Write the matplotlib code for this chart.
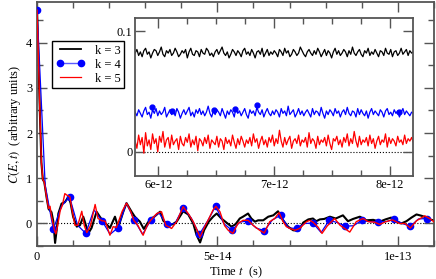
import numpy as np
import matplotlib
matplotlib.use("Agg")
import matplotlib.pyplot as plt
from matplotlib.lines import Line2D
from matplotlib.ticker import FixedLocator, MultipleLocator

# ---- main panel data, time in units of 1e-15 s ----
t_k3 = [0, 0.4, 0.8, 1.2, 1.6, 2.0, 2.7, 3.2, 4.0, 4.5, 5.0, 5.5, 5.9, 6.8, 7.7,
        8.7, 9.3, 10.0, 11.0, 11.9, 12.8, 13.4, 14.2, 15.1, 16.5, 17.4, 18.3, 19.3,
        20.2, 21.6, 22.5, 23.9, 24.8, 26.2, 27.1, 28.5, 29.6, 30.8, 31.5, 32.5,
        34.1, 35.0, 36.4, 37.5, 38.7, 40.5, 41.9, 43.3, 44.2, 45.2, 46.3, 47.6,
        48.8, 49.8, 51.1, 52.5, 53.9, 55.0, 56.2, 57.1, 58.5, 59.4, 60.4, 61.3,
        62.7, 64.1, 65.5, 66.8, 68.2, 69.6, 71.0, 72.5, 73.8, 75.2, 76.5, 77.4,
        78.4, 79.6, 81.2, 82.8, 84.8, 86.2, 87.6, 89.5, 91.3, 93.2, 95.0, 96.6,
        98.2, 99.6, 101.0, 102.4, 103.8, 105.2, 106.6, 108.0, 109.3, 110.0]
c_k3 = [4.72, 3.6, 2.4, 1.35, 0.97, 0.92, 0.55, 0.32, 0.25, 0.05, -0.43, -0.1,
        0.22, 0.44, 0.47, 0.59, 0.45, 0.15, -0.07, -0.04, 0.15, 0.0, -0.22, -0.1,
        0.26, 0.15, 0.05, -0.02, -0.1, 0.15, -0.09, 0.26, 0.45, 0.26, 0.15, 0.04,
        -0.12, 0.03, 0.1, 0.15, 0.26, 0.06, -0.04, -0.02, 0.04, 0.27, 0.2, 0.0,
        -0.25, -0.42, -0.15, 0.04, 0.15, 0.22, 0.11, 0.02, -0.07, -0.02, 0.11,
        0.15, 0.22, 0.11, 0.04, 0.07, 0.07, 0.15, 0.18, 0.27, 0.07, -0.07, -0.15,
        -0.16, 0.02, 0.09, 0.11, 0.05, 0.09, 0.1, 0.15, 0.11, 0.18, 0.05, 0.1,
        0.15, 0.07, 0.08, 0.04, 0.09, 0.13, 0.05, 0.0, 0.05, 0.13, 0.2, 0.17,
        0.13, 0.08, 0.07]

t_k5 = [0, 0.4, 0.8, 1.2, 1.6, 2.0, 2.7, 3.2, 3.6, 4.0, 4.8, 5.2, 5.7, 6.4, 7.0,
        7.7, 8.4, 9.1, 9.8, 10.5, 11.3, 12.4, 13.1, 13.8, 14.8, 16.1, 16.9, 18.0,
        18.9, 20.2, 21.1, 22.0, 23.6, 24.8, 26.0, 26.8, 28.0, 29.4, 30.5, 31.5,
        33.2, 34.5, 35.7, 37.3, 38.7, 40.5, 41.9, 43.3, 45.2, 46.5, 47.6, 48.8,
        49.6, 50.7, 52.0, 53.0, 54.3, 55.7, 57.1, 58.5, 59.9, 61.7, 63.0, 64.5,
        65.9, 67.1, 68.2, 69.1, 70.1, 71.5, 72.8, 74.7, 75.6, 76.5, 77.9, 79.0,
        80.5, 82.5, 84.0, 86.7, 88.5, 90.4, 91.8, 93.5, 95.0, 96.7, 98.5, 100.5,
        102.0, 103.5, 105.2, 107.5, 109.0, 110.0]
c_k5 = [4.72, 3.6, 2.4, 1.35, 0.97, 0.92, 0.55, 0.33, 0.38, 0.16, -0.14, -0.23,
        -0.05, 0.28, 0.40, 0.66, 0.62, 0.59, 0.26, -0.04, -0.04, 0.27, -0.05,
        -0.2, -0.05, 0.42, 0.11, 0.06, 0.05, -0.26, -0.07, -0.09, 0.27, 0.45,
        0.26, 0.07, -0.05, -0.26, -0.05, 0.07, 0.22, 0.26, -0.04, -0.11, 0.04,
        0.37, 0.22, 0.04, -0.30, -0.07, 0.1, 0.3, 0.38, 0.26, -0.05, -0.15,
        -0.22, 0.0, 0.07, 0.07, -0.04, -0.15, -0.21, 0.04, 0.11, 0.24, 0.04,
        -0.07, -0.11, -0.15, -0.11, 0.04, 0.07, 0.03, -0.08, -0.22, -0.05, 0.11,
        -0.04, -0.19, 0.04, 0.11, 0.04, 0.03, -0.02, 0.04, 0.08, 0.0, 0.0, -0.1,
        0.06, 0.17, 0.1, 0.04]

# k = 4: every second point carries a marker (4.5e-15 s apart)
t_k4 = [0, 2.25, 4.5, 6.75, 9.0, 11.25, 13.5, 15.75, 18.0, 20.25, 22.5, 24.75,
        27.0, 29.25, 31.5, 33.75, 36.0, 38.25, 40.5, 42.75, 45.0, 47.25, 49.5,
        51.75, 54.0, 56.25, 58.5, 60.75, 63.0, 65.25, 67.5, 69.75, 72.0, 74.25,
        76.5, 78.75, 81.0, 83.25, 85.5, 87.75, 90.0, 92.25, 94.5, 96.75, 99.0,
        101.25, 103.5, 105.75, 108.0]
c_k4 = [4.72, 0.85, -0.13, 0.38, 0.59, -0.04, -0.22, 0.3, 0.06, -0.24, -0.09,
        0.45, 0.07, -0.24, 0.07, 0.24, -0.02, 0.0, 0.35, 0.12, -0.24, 0.05,
        0.38, 0.0, -0.15, 0.03, 0.06, -0.1, -0.16, 0.08, 0.18, -0.1, -0.11, 0.0,
        0.01, -0.2, 0.07, 0.02, -0.06, -0.05, 0.07, 0.04, 0.04, 0.04, 0.09, 0.0,
        -0.06, 0.1, 0.11]

# ---- inset data: 5.8e-12 .. 8.2e-12 s, values in units of 1e-3 ----
t_inset = [5.8 + 0.015 * i for i in range(161)]
k3_inset = [82, 85, 80, 83, 79, 84, 86, 81, 83, 78, 82, 85, 84, 80, 83, 87, 81, 79, 84, 82,
            85, 80, 82, 86, 83, 79, 81, 84, 82, 85, 78, 83, 86, 81, 80, 84, 83, 79, 85, 82,
            81, 86, 84, 80, 82, 79, 83, 85, 81, 84, 87, 82, 80, 83, 78, 81, 85, 83, 80, 84,
            82, 79, 84, 86, 81, 83, 80, 85, 82, 78, 83, 84, 81, 86, 79, 82, 85, 80, 83, 81,
            84, 82, 79, 85, 83, 80, 86, 82, 84, 79, 81, 85, 83, 80, 82, 87, 84, 81, 79, 83,
            85, 82, 80, 84, 81, 86, 83, 79, 82, 85, 80, 84, 82, 78, 83, 86, 81, 84, 80, 82,
            85, 83, 79, 84, 81, 87, 82, 80, 83, 85, 81, 79, 84, 82, 86, 80, 83, 81, 85, 82,
            79, 84, 83, 80, 86, 82, 81, 85, 79, 83, 84, 80, 82, 86, 81, 83, 85, 80, 84, 82,
            83]
k4_inset = [33, 30, 35, 32, 29, 34, 37, 31, 33, 28, 35, 32, 36, 30, 34, 31, 33, 37, 29, 32,
            35, 31, 34, 30, 36, 33, 28, 32, 35, 31, 34, 37, 30, 33, 29, 35, 32, 36, 31, 34,
            30, 33, 38, 32, 29, 34, 31, 35, 33, 30, 36, 32, 28, 34, 31, 35, 33, 29, 37, 32,
            34, 30, 33, 36, 31, 28, 35, 32, 34, 30, 37, 33, 31, 35, 29, 33, 36, 32, 30, 34,
            31, 35, 33, 29, 36, 32, 34, 30, 38, 31, 33, 35, 29, 32, 36, 31, 34, 30, 33, 35,
            32, 29, 36, 31, 34, 33, 30, 37, 32, 28, 34, 31, 35, 33, 30, 36, 32, 34, 29, 33,
            35, 31, 37, 32, 30, 34, 33, 29, 36, 31, 35, 32, 30, 34, 28, 33, 36, 31, 34, 32,
            30, 35, 33, 29, 34, 36, 31, 33, 30, 35, 32, 34, 29, 33, 36, 31, 34, 32, 30, 33,
            32]
k5_inset = [9, 3, 14, 6, 12, -1, 16, 5, 10, 2, 15, 7, 11, 0, 13, 8, 17, 4, 10, 12,
            3, 14, 6, 9, 11, 2, 13, 7, 5, 12, 8, 15, 4, 10, 6, 13, 1, 11, 9, 5,
            12, 7, 14, 3, 10, 8, 6, 13, 4, 11, 9, 2, 12, 7, 10, 5, 14, 8, 3, 11,
            6, 13, 9, 4, 10, 7, 12, 5, 15, 8, 11, 3, 9, 13, 6, 10, 4, 12, 8, 14,
            5, 11, 7, 18, 9, 4, 12, 6, 10, 13, 3, 9, 11, 7, 14, 5, 10, 8, 12, 4,
            16, 7, 11, 9, 3, 13, 6, 10, 8, 12, 5, 14, 7, 2, 11, 9, 13, 6, 10, 4,
            12, 8, 15, 5, 11, 7, 17, 9, 4, 13, 6, 10, 8, 12, 5, 14, 7, 11, 3, 9,
            13, 6, 10, 8, 15, 4, 12, 7, 11, 9, 5, 13, 8, 10, 6, 14, 7, 11, 9, 12,
            8]
k4_mark_t = [5.947, 6.12, 6.48, 6.66, 6.85, 8.08]
k4_mark_v = [37, 34, 35, 36, 39, 33]

plt.rcParams["font.family"] = "Liberation Serif"
plt.rcParams["mathtext.fontset"] = "stix"
plt.rcParams["font.size"] = 9

spine_col = "#555555"

fig = plt.figure(figsize=(4.36, 2.79), dpi=100)
ax = fig.add_axes([0.085, 0.118, 0.91, 0.875])

fs = 1e-15
ax.axhline(0, color="black", lw=0.8, ls=":", zorder=1)
ax.plot(np.array(t_k3) * fs, c_k3, color="black", lw=1.5, zorder=2)
ax.plot(np.array(t_k4) * fs, c_k4, color="blue", lw=0.9, marker="o", ms=4.5,
        markevery=2, zorder=3)
ax.plot(np.array(t_k5) * fs, c_k5, color="red", lw=1.0, zorder=4)

ax.set_xlim(0, 1.1e-13)
ax.set_ylim(-0.5, 4.9)
ax.xaxis.set_major_locator(FixedLocator([0, 5e-14, 1e-13]))
ax.set_xticklabels(["0", "5e-14", "1e-13"])
ax.xaxis.set_minor_locator(MultipleLocator(1e-14))
ax.yaxis.set_major_locator(MultipleLocator(1))
ax.yaxis.set_minor_locator(MultipleLocator(0.5))
ax.set_xlabel("Time $t$  (s)", labelpad=1)
ax.set_ylabel("$C(E,t)$  (arbitrary units)", labelpad=2)

ax.tick_params(which="both", direction="in", top=True, right=True,
               color=spine_col, width=1.0)
ax.tick_params(which="major", length=7)
ax.tick_params(which="minor", length=4)
for s in ax.spines.values():
    s.set_color(spine_col)
    s.set_linewidth(1.3)

handles = [Line2D([], [], color="black", lw=1.3),
           Line2D([], [], color="#5a5aff", lw=1.0, marker="o", ms=4.5,
                  markerfacecolor="blue", markeredgecolor="blue"),
           Line2D([], [], color="red", lw=0.9)]
leg = ax.legend(handles, ["k = 3", "k = 4", "k = 5"], loc="upper left",
                bbox_to_anchor=(0.038, 0.84), numpoints=2, fancybox=False,
                framealpha=1, edgecolor="black", borderpad=0.3,
                handlelength=2.3, labelspacing=0.15, handletextpad=0.8,
                borderaxespad=0)
leg.get_frame().set_linewidth(1.0)

# ---- inset ----
ins = fig.add_axes([0.310, 0.369, 0.638, 0.566])
ps = 1e-12
ins.axhline(0, color="black", lw=0.8, ls=":", zorder=1)
ins.plot(np.array(t_inset) * ps, np.array(k3_inset) * 1e-3, color="black", lw=0.9)
ins.plot(np.array(t_inset) * ps, np.array(k4_inset) * 1e-3, color="blue", lw=0.9)
ins.plot(np.array(k4_mark_t) * ps, np.array(k4_mark_v) * 1e-3, "o", color="blue",
         ms=3.5)
ins.plot(np.array(t_inset) * ps, np.array(k5_inset) * 1e-3, color="red", lw=0.9)
ins.set_xlim(5.8e-12, 8.2e-12)
ins.set_ylim(-0.02, 0.111)
ins.xaxis.set_major_locator(FixedLocator([6e-12, 7e-12, 8e-12]))
ins.set_xticklabels(["6e-12", "7e-12", "8e-12"])
ins.xaxis.set_minor_locator(MultipleLocator(0.25e-12))
ins.yaxis.set_major_locator(FixedLocator([0, 0.1]))
ins.set_yticklabels(["0", "0.1"])
ins.tick_params(which="both", direction="in", top=True, right=True,
                color=spine_col, width=1.0, pad=2)
ins.tick_params(which="major", length=7)
ins.tick_params(which="minor", length=4)
for s in ins.spines.values():
    s.set_color(spine_col)
    s.set_linewidth(1.3)

fig.savefig("out.png", dpi=100)
